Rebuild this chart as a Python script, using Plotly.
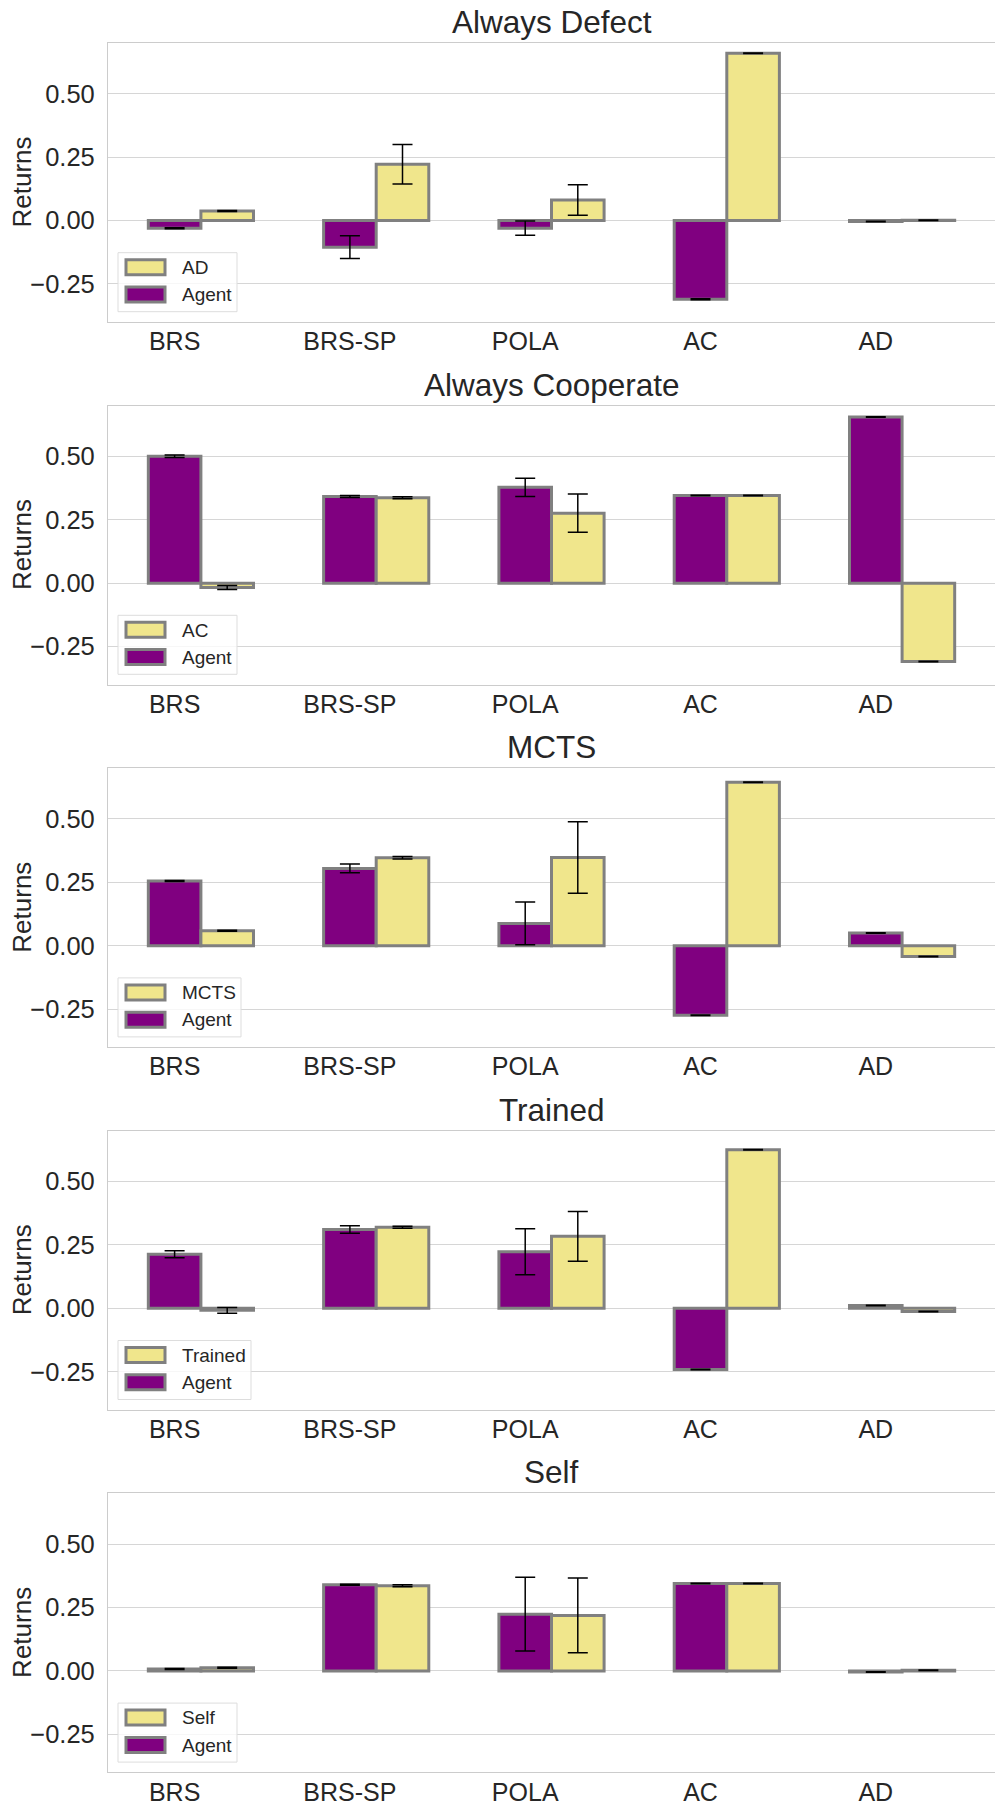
import plotly.graph_objects as go

# ---------------- data ----------------
categories = ["BRS", "BRS-SP", "POLA", "AC", "AD"]
panel_titles = ["Always Defect", "Always Cooperate", "MCTS", "Trained", "Self"]
opponent_labels = ["AD", "AC", "MCTS", "Trained", "Self"]
agent_label = "Agent"

# Always Defect
agent_ad = [-0.030, -0.105, -0.030, -0.310, -0.004]
agent_ad_err = [0.002, 0.045, 0.028, 0.002, 0.001]
opp_ad = [0.038, 0.222, 0.081, 0.660, 0.001]
opp_ad_err = [0.002, 0.078, 0.060, 0.001, 0.001]

# Always Cooperate
agent_ac = [0.500, 0.342, 0.378, 0.346, 0.655]
agent_ac_err = [0.005, 0.004, 0.036, 0.001, 0.001]
opp_ac = [-0.017, 0.337, 0.276, 0.346, -0.309]
opp_ac_err = [0.008, 0.004, 0.075, 0.001, 0.001]

# MCTS
agent_mcts = [0.255, 0.305, 0.088, -0.274, 0.050]
agent_mcts_err = [0.002, 0.017, 0.084, 0.001, 0.001]
opp_mcts = [0.059, 0.347, 0.348, 0.645, -0.042]
opp_mcts_err = [0.002, 0.005, 0.141, 0.001, 0.001]

# Trained
agent_trained = [0.213, 0.311, 0.223, -0.241, 0.011]
agent_trained_err = [0.014, 0.015, 0.091, 0.001, 0.001]
opp_trained = [-0.008, 0.320, 0.284, 0.625, -0.012]
opp_trained_err = [0.011, 0.004, 0.098, 0.001, 0.001]

# Self
agent_self = [0.008, 0.340, 0.224, 0.345, -0.004]
agent_self_err = [0.002, 0.002, 0.145, 0.001, 0.001]
opp_self = [0.013, 0.336, 0.219, 0.345, 0.003]
opp_self_err = [0.002, 0.004, 0.147, 0.001, 0.001]

agent_vals = [agent_ad, agent_ac, agent_mcts, agent_trained, agent_self]
agent_errs = [agent_ad_err, agent_ac_err, agent_mcts_err, agent_trained_err, agent_self_err]
opp_vals = [opp_ad, opp_ac, opp_mcts, opp_trained, opp_self]
opp_errs = [opp_ad_err, opp_ac_err, opp_mcts_err, opp_trained_err, opp_self_err]

y_ticks = [-0.25, 0.0, 0.25, 0.5]

# ---------------- style / layout ----------------
W, H = 995, 1805
ML, MR, MT, MB = 108, 0, 43, 32
PW, PH = W - ML - MR, H - MT - MB
FONT = "Liberation Sans, Arial, sans-serif"
TXT = "#262626"
PURPLE = "#800080"
KHAKI = "#F0E68C"
EDGE = "#808080"
GRID = "#d6d6d6"
SPINE = "#cccccc"

panel_step = 362.6
panel_h = 279.0
legend_box_w = [119, 119, 123, 133, 119]  # px, per panel


def px_x(p):
    """pixel offset from plot-area left -> paper x"""
    return p / PW


def px_y(p):
    """pixel offset from plot-area top -> paper y"""
    return 1 - p / PH


fig = go.Figure()
shapes = []
annotations = []
layout = dict(
    width=W, height=H,
    margin=dict(l=ML, r=MR, t=MT, b=MB, pad=0),
    paper_bgcolor="white", plot_bgcolor="white",
    barmode="overlay", showlegend=False,
    font=dict(family=FONT, color=TXT),
)

for i in range(5):
    top_px = panel_step * i
    bot_px = top_px + panel_h
    d_top = px_y(top_px)
    d_bot = px_y(bot_px)
    sfx = "" if i == 0 else str(i + 1)
    xa, ya = "x" + sfx, "y" + sfx

    fig.add_trace(go.Bar(
        x=categories, y=agent_vals[i], name=agent_label,
        xaxis=xa, yaxis=ya,
        offset=-0.15, width=0.3,
        marker=dict(color=PURPLE, line=dict(color=EDGE, width=3)),
        error_y=dict(type="data", array=agent_errs[i], color="black",
                     thickness=1.5, width=10),
    ))
    fig.add_trace(go.Bar(
        x=categories, y=opp_vals[i], name=opponent_labels[i],
        xaxis=xa, yaxis=ya,
        offset=0.15, width=0.3,
        marker=dict(color=KHAKI, line=dict(color=EDGE, width=3)),
        error_y=dict(type="data", array=opp_errs[i], color="black",
                     thickness=1.5, width=10),
    ))

    layout["xaxis" + sfx] = dict(
        domain=[0, 1], anchor=ya, type="category",
        range=[-0.38, 4.68], automargin=False,
        showgrid=False, zeroline=False,
        showline=True, mirror=True, linecolor=SPINE, linewidth=1.2,
        ticks="", ticklen=0, ticklabelstandoff=-3,
        tickfont=dict(size=25, color=TXT, family=FONT),
    )
    layout["yaxis" + sfx] = dict(
        domain=[d_bot, d_top], anchor=xa,
        range=[-0.4, 0.7], automargin=False,
        tickvals=y_ticks, tickformat=".2f",
        showgrid=True, gridcolor=GRID, gridwidth=1.2,
        zeroline=False,
        showline=True, mirror=True, linecolor=SPINE, linewidth=1.2,
        ticks="", ticklen=0, ticklabelstandoff=7,
        tickfont=dict(size=25.5, color=TXT, family=FONT),
    )

    # panel title
    annotations.append(dict(
        text=panel_titles[i], xref="paper", yref="paper",
        x=0.5, y=d_top, xanchor="center", yanchor="bottom",
        yshift=1, showarrow=False,
        font=dict(size=31.5, color=TXT, family=FONT),
    ))
    # y-axis label
    annotations.append(dict(
        text="Returns", xref="paper", yref="paper",
        x=(22 - ML) / PW, y=(d_top + d_bot) / 2,
        xanchor="center", yanchor="middle", textangle=-90,
        showarrow=False,
        font=dict(size=26, color=TXT, family=FONT),
    ))

    # custom legend (box, swatches, labels)
    bx0, bx1 = 10, 10 + legend_box_w[i]
    by0, by1 = bot_px - 69.3, bot_px - 10.3
    shapes.append(dict(
        type="rect", xref="paper", yref="paper", layer="above",
        x0=px_x(bx0), x1=px_x(bx1), y0=px_y(by1), y1=px_y(by0),
        fillcolor="rgba(255,255,255,0.8)",
        line=dict(color="#dddddd", width=1),
    ))
    rows = [(opponent_labels[i], KHAKI, bot_px - 62.3, bot_px - 54.6),
            (agent_label, PURPLE, bot_px - 35.0, bot_px - 27.3)]
    for label, col, sw_top, txt_c in rows:
        shapes.append(dict(
            type="rect", xref="paper", yref="paper", layer="above",
            x0=px_x(18), x1=px_x(57), y0=px_y(sw_top + 15), y1=px_y(sw_top),
            fillcolor=col, line=dict(color=EDGE, width=3),
        ))
        annotations.append(dict(
            text=label, xref="paper", yref="paper",
            x=px_x(72), y=px_y(txt_c), xanchor="left", yanchor="middle",
            showarrow=False,
            font=dict(size=19, color=TXT, family=FONT),
        ))

layout["shapes"] = shapes
layout["annotations"] = annotations
fig.update_layout(**layout)
fig.write_html(
    "out.html",
    config={"displayModeBar": False},
    post_script="document.body.style.margin='0';document.body.style.overflow='hidden';",
)
